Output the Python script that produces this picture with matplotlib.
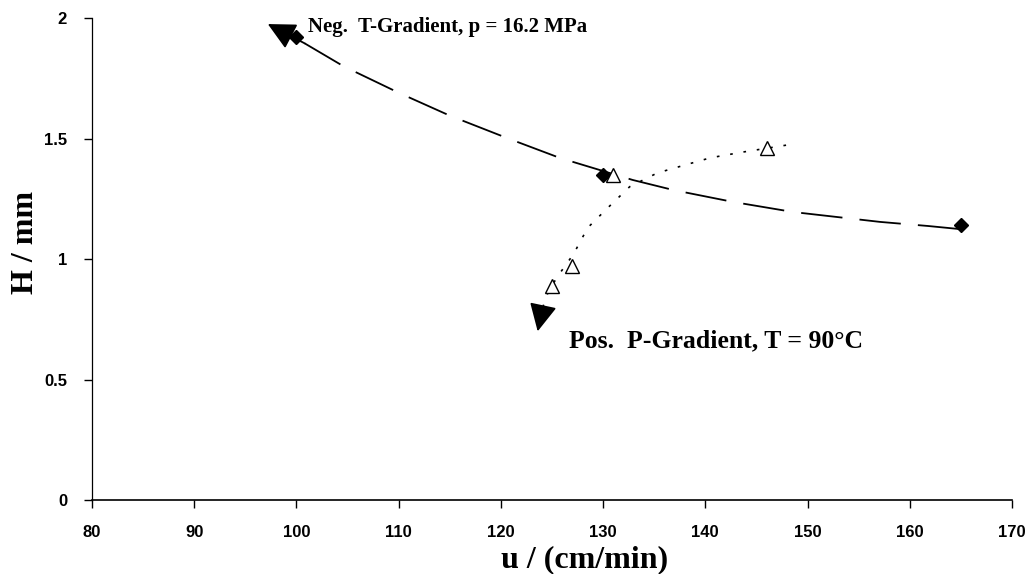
import numpy as np
import matplotlib
matplotlib.use('Agg')
import matplotlib.pyplot as plt

# data
u_neg_t = [100, 130, 165]
h_neg_t = [1.92, 1.35, 1.14]

u_pos_p = [125, 127, 131, 146]
h_pos_p = [0.89, 0.97, 1.35, 1.46]

# dashed trend curve for the T-gradient
trend_t_u = [100.8, 104.6, 110.0, 115.0, 120.6, 125.8, 132.9, 136.9, 142.7, 148.6, 157.1, 161.8, 165.9]
trend_t_h = [1.895, 1.80, 1.69, 1.595, 1.502, 1.419, 1.328, 1.286, 1.237, 1.195, 1.154, 1.137, 1.12]
arrow_t_tip = (97.2, 1.975)

# dotted trend curve for the P-gradient
trend_p_u = [124.1, 124.6, 125.5, 127.1, 128.5, 130.4, 132.6, 135.3, 138.0, 140.5, 143.7, 148.0]
trend_p_h = [0.80, 0.86, 0.925, 1.02, 1.13, 1.21, 1.30, 1.357, 1.39, 1.42, 1.444, 1.473]
arrow_p_tip = (123.6, 0.70)

x_ticks = [80, 90, 100, 110, 120, 130, 140, 150, 160, 170]
y_ticks = [0, 0.5, 1, 1.5, 2]
y_tick_labels = ['0', '0.5', '1', '1.5', '2']

serif = ['Liberation Serif', 'DejaVu Serif']
sans = ['Liberation Sans', 'DejaVu Sans']

fig = plt.figure(figsize=(10.28, 5.74), dpi=100)
ax = fig.add_axes([0.0895, 0.1289, 0.8949, 0.8397])

arrow_style = dict(arrowstyle='-|>,head_length=1.7,head_width=0.85',
                   color='black', lw=1.3, shrinkA=0, shrinkB=0)

# dashed trend for negative T-gradient
ax.plot(trend_t_u, trend_t_h, color='black', lw=1.3, dashes=(23, 9.5))
ax.annotate('', xy=arrow_t_tip, xytext=(trend_t_u[0], trend_t_h[0]), arrowprops=arrow_style)

# dotted trend for positive P-gradient
ax.plot(trend_p_u, trend_p_h, color='black', lw=1.2, dashes=(1.6, 6.5))
ax.annotate('', xy=arrow_p_tip, xytext=(trend_p_u[0], trend_p_h[0]), arrowprops=arrow_style)

ax.plot(u_neg_t, h_neg_t, linestyle='none', marker='D', ms=7.5, color='black')
ax.plot(u_pos_p, h_pos_p, linestyle='none', marker='^', ms=10, mfc='white',
        mec='black', mew=1.0)

ax.text(101.1, 1.962, 'Neg.  T-Gradient, p = 16.2 MPa', family=serif,
        fontweight='bold', fontsize=15, va='center', ha='left')
ax.text(126.7, 0.66, 'Pos.  P-Gradient, T = 90\u00b0C', family=serif,
        fontweight='bold', fontsize=18.5, va='center', ha='left')

ax.set_xlim(80, 170)
ax.set_ylim(0, 2)
ax.set_xticks(x_ticks)
ax.set_yticks(y_ticks)
ax.set_yticklabels(y_tick_labels)
for s in ['top', 'right']:
    ax.spines[s].set_visible(False)
ax.spines['left'].set_linewidth(0.9)
ax.spines['bottom'].set_linewidth(1.2)
ax.tick_params(axis='x', direction='out', length=6, pad=12, width=1)
ax.tick_params(axis='y', direction='out', length=6, pad=12, width=1)
for lab in ax.get_xticklabels() + ax.get_yticklabels():
    lab.set_family(sans)
    lab.set_fontweight('bold')
    lab.set_fontsize(12)

ax.set_xlabel('u / (cm/min)', family=serif, fontweight='bold', fontsize=23)
ax.set_ylabel('H / mm', family=serif, fontweight='bold', fontsize=23)
ax.xaxis.set_label_coords(0.535, -0.093)
ax.yaxis.set_label_coords(-0.057, 0.535)

fig.savefig('out.png', dpi=100)
